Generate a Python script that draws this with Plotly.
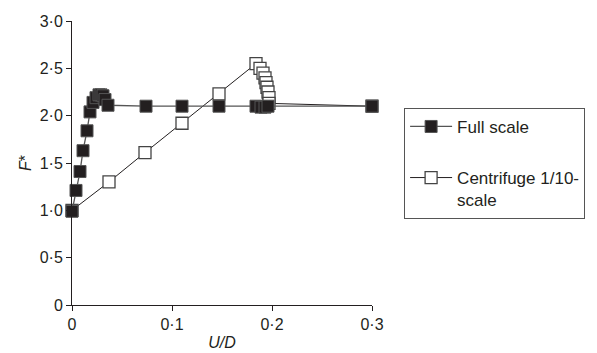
import plotly.graph_objects as go

# Full scale series
full_u = [0, 0.004, 0.008, 0.011, 0.015, 0.018, 0.021, 0.024, 0.027, 0.029, 0.031, 0.033, 0.036,
          0.074, 0.11, 0.147, 0.184, 0.189, 0.193, 0.196, 0.3]
full_f = [0.99, 1.21, 1.41, 1.63, 1.84, 2.04, 2.14, 2.19, 2.22, 2.22, 2.21, 2.17, 2.11,
          2.1, 2.1, 2.1, 2.1, 2.09, 2.09, 2.1, 2.1]

# Centrifuge 1/10-scale series
cen_u = [0, 0.037, 0.073, 0.11, 0.147, 0.184, 0.188, 0.191, 0.193, 0.194, 0.195, 0.196, 0.197, 0.197, 0.3]
cen_f = [1.0, 1.30, 1.61, 1.92, 2.23, 2.55, 2.50, 2.45, 2.40, 2.35, 2.30, 2.25, 2.19, 2.13, 2.1]

x_tickvals = [0, 0.1, 0.2, 0.3]
x_ticktext = ["0", "0·1", "0·2", "0·3"]
y_tickvals = [0, 0.5, 1.0, 1.5, 2.0, 2.5, 3.0]
y_ticktext = ["0", "0·5", "1·0", "1·5", "2·0", "2·5", "3·0"]

INK = "#231f20"

fig = go.Figure()
fig.add_trace(go.Scatter(
    x=cen_u, y=cen_f, mode="lines+markers", name="Centrifuge 1/10-<br>scale",
    legendgroup="b", legendrank=2,
    line=dict(color=INK, width=1),
    marker=dict(symbol="square", size=12, color="white", line=dict(color="#444444", width=1.3)),
    cliponaxis=False,
))
fig.add_trace(go.Scatter(
    x=full_u, y=full_f, mode="lines+markers", name="Full scale",
    legendgroup="a", legendrank=1,
    line=dict(color="#555555", width=1.3),
    marker=dict(symbol="square", size=12, color=INK, line=dict(color="#555555", width=1)),
    cliponaxis=False,
))

fig.update_layout(
    width=597, height=353,
    margin=dict(l=72, r=225, t=21, b=48),
    paper_bgcolor="white", plot_bgcolor="white",
    font=dict(family="Liberation Sans, Arial, sans-serif", size=16, color=INK),
    showlegend=True,
    legend=dict(
        x=1.107, y=0.694, xanchor="left", yanchor="top",
        bordercolor="#555555", borderwidth=1,
        font=dict(size=17, color=INK),
        tracegroupgap=26, valign="top",
        traceorder="grouped", itemwidth=42,
    ),
    xaxis=dict(
        range=[0, 0.3], tickvals=x_tickvals, ticktext=x_ticktext,
        showline=True, linecolor=INK, linewidth=1,
        ticks="outside", ticklen=5, tickcolor=INK,
        showgrid=False, zeroline=False, automargin=False,
        title=dict(text="<i>U/D</i>", standoff=4, font=dict(size=16)),
    ),
    yaxis=dict(
        range=[0, 3], tickvals=y_tickvals, ticktext=y_ticktext,
        showline=True, linecolor=INK, linewidth=1,
        ticks="outside", ticklen=5, tickcolor=INK,
        showgrid=False, zeroline=False, automargin=False,
        title=dict(text="<i>F</i>*", standoff=4, font=dict(size=16)),
    ),
)

fig.write_html("out.html", config={"displayModeBar": False})

# remove default page margin so the figure sits at the window's top-left corner
with open("out.html", "r", encoding="utf-8") as fh:
    html = fh.read()
html = html.replace("<head>", "<head><style>html,body{margin:0;padding:0;}</style>", 1)
with open("out.html", "w", encoding="utf-8") as fh:
    fh.write(html)
